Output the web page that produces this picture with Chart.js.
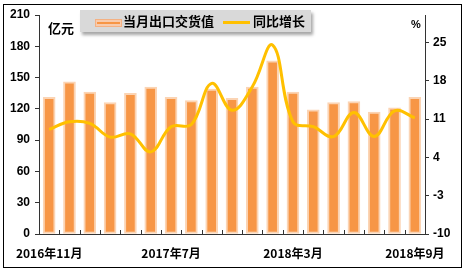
<!DOCTYPE html>
<html>
<head>
<meta charset="utf-8">
<script src="https://cdn.jsdelivr.net/npm/chart.js@4.4.1/dist/chart.umd.min.js"></script>
<style>
  html, body { margin: 0; padding: 0; background: #fff; }
  #wrap { width: 464px; height: 277px; position: relative; }
</style>
</head>
<body>
<div id="wrap"><canvas id="grafico"></canvas></div>
<script>
// 月份（每年1、2月不单列）
const meses = [
  '2016年11月', '2016年12月',
  '2017年3月', '2017年4月', '2017年5月', '2017年6月', '2017年7月',
  '2017年8月', '2017年9月', '2017年10月', '2017年11月', '2017年12月',
  '2018年3月', '2018年4月', '2018年5月', '2018年6月', '2018年7月',
  '2018年8月', '2018年9月'
];

// 当月出口交货值（亿元）
const exportacao = [131, 146, 136, 126, 135, 141, 131, 128, 139, 130, 141, 166, 136, 119, 126, 127, 117, 121, 131];

// 同比增长（%）
const crescimento = [9.1, 10.5, 10.2, 7.7, 8.3, 5.0, 9.6, 10.0, 17.5, 12.6, 16.9, 24.5, 10.5, 9.6, 7.8, 12.2, 7.8, 12.5, 11.2];

const ticksDireita = [-10, -3, 4, 11, 18, 25];
const nomeBarra = '当月出口交货值';
const nomeLinha = '同比增长';

const laranja = '#F79646';
const bordaBarra = '#FBD4B4';
const dourado = '#FFC000';
const fonteTicks = { family: '"Liberation Sans", Arial', size: 12, weight: 'bold' };

// moldura, legenda e unidades
const extras = {
  id: 'extras',
  afterDraw(chart) {
    const ctx = chart.ctx;
    const area = chart.chartArea;
    ctx.save();

    // moldura
    ctx.strokeStyle = '#000';
    ctx.lineWidth = 1;
    ctx.strokeRect(3.5, 4.5, 458, 263);

    // marcas do eixo x (para dentro)
    const passo = (area.right - area.left) / meses.length;
    ctx.strokeStyle = '#333';
    ctx.beginPath();
    for (let i = 0; i <= meses.length; i++) {
      const px = Math.round(area.left + i * passo) + 0.5;
      ctx.moveTo(px, area.bottom);
      ctx.lineTo(px, area.bottom - 4);
    }
    ctx.stroke();

    // caixa da legenda
    ctx.save();
    ctx.shadowColor = 'rgba(0,0,0,0.35)';
    ctx.shadowBlur = 3;
    ctx.shadowOffsetX = 2;
    ctx.shadowOffsetY = 3;
    ctx.fillStyle = '#D9D9D9';
    ctx.fillRect(80, 10, 231, 22);
    ctx.restore();

    // amostra da barra
    ctx.fillStyle = '#F8CBAD';
    ctx.fillRect(95, 19, 27, 8);
    ctx.strokeStyle = '#F4B183';
    ctx.strokeRect(95.5, 19.5, 26, 7);
    ctx.fillStyle = laranja;
    ctx.fillRect(97, 22, 23, 2);

    // amostra da linha
    ctx.strokeStyle = dourado;
    ctx.lineWidth = 3;
    ctx.beginPath();
    ctx.moveTo(223, 22.5);
    ctx.lineTo(250, 22.5);
    ctx.stroke();

    ctx.fillStyle = '#000';
    ctx.textBaseline = 'middle';
    ctx.textAlign = 'left';
    ctx.font = 'bold 13px "Noto Sans CJK SC"';
    ctx.fillText(nomeBarra, 123, 21.5);
    ctx.fillText(nomeLinha, 253, 21.5);

    // unidades
    ctx.font = 'bold 13px "Noto Sans CJK SC"';
    ctx.fillText('亿元', 48, 28);
    ctx.font = 'bold 11px "Liberation Sans", Arial';
    ctx.fillText('%', 411, 25);

    ctx.restore();
  }
};

new Chart(document.getElementById('grafico'), {
  data: {
    labels: meses,
    datasets: [
      {
        type: 'line',
        label: nomeLinha,
        data: crescimento,
        yAxisID: 'y2',
        borderColor: dourado,
        borderWidth: 3,
        pointRadius: 0,
        tension: 0.4,
        order: 1
      },
      {
        type: 'bar',
        label: nomeBarra,
        data: exportacao,
        yAxisID: 'y',
        backgroundColor: laranja,
        borderColor: bordaBarra,
        borderWidth: 2,
        borderSkipped: false,
        barThickness: 12,
        order: 2
      }
    ]
  },
  options: {
    responsive: true,
    maintainAspectRatio: false,
    animation: false,
    layout: { padding: { top: 15, left: 0, right: 0, bottom: 0 } },
    plugins: {
      legend: { display: false },
      tooltip: { enabled: false }
    },
    scales: {
      x: {
        offset: true,
        grid: { display: false },
        border: { display: true, color: '#333', width: 1 },
        ticks: {
          autoSkip: false,
          maxRotation: 0,
          padding: 4,
          color: '#000',
          font: { family: '"Noto Sans CJK SC"', size: 12, weight: 'bold' },
          callback: (v, i) => (i % 6 === 0 ? meses[i] : '')
        },
        afterFit: s => { s.height = 43; }
      },
      y: {
        position: 'left',
        min: 0,
        max: 210,
        ticks: { stepSize: 30, padding: 5, color: '#000', font: fonteTicks },
        grid: { drawOnChartArea: false, tickLength: 4, color: '#333' },
        border: { color: '#333', width: 1 },
        afterFit: s => { s.width = 39; }
      },
      y2: {
        position: 'right',
        min: -10,
        max: 30,
        afterBuildTicks: s => { s.ticks = ticksDireita.map(v => ({ value: v })); },
        ticks: { padding: 4, color: '#000', font: fonteTicks },
        grid: { drawOnChartArea: false, tickLength: 4, color: '#333' },
        border: { color: '#333', width: 1 },
        afterFit: s => { s.width = 39; }
      }
    }
  },
  plugins: [extras]
});
</script>
</body>
</html>
